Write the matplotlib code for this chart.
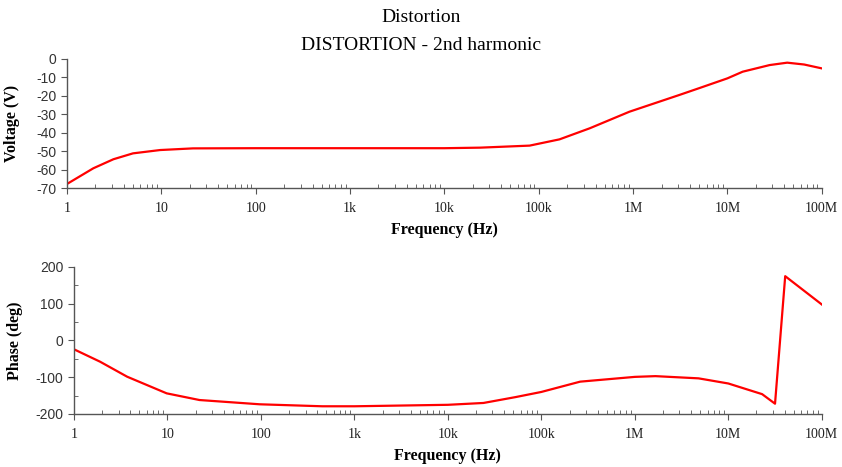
import numpy as np
import matplotlib.pyplot as plt
from matplotlib.ticker import FixedLocator, LogLocator, MultipleLocator, NullFormatter

plt.rcParams['axes.unicode_minus'] = False

# voltage trace (2nd harmonic magnitude)
v_freq = [1, 1.9, 3.1, 5, 9.7, 21.6, 100, 1e3, 1e4, 2.4e4, 8e4, 1.66e5,
          3.47e5, 9.15e5, 3.1e6, 5.1e6, 1e7, 1.45e7, 2.8e7, 4.3e7, 6.5e7, 1e8]
v_volt = [-67.8, -59.3, -54.4, -51.2, -49.4, -48.5, -48.4, -48.4, -48.4, -48.1,
          -47.0, -43.6, -37.6, -28.6, -19.5, -15.7, -10.5, -6.9, -3.3, -2.0,
          -3.0, -5.1]

# phase trace
p_freq = [1, 1.9, 3.7, 9.8, 22, 97, 453, 1e3, 1e4, 2.4e4, 5.3e4, 1e5, 2.6e5,
          1e6, 1.66e6, 4.8e6, 1e7, 2.3e7, 3.16e7, 4.06e7, 1e8]
p_deg = [-24, -57.7, -98.5, -143.8, -162, -173.6, -179, -179, -175, -170, -154,
         -140, -112, -99, -97, -103, -117, -146, -172, 175, 98]

freq_ticks = [1, 10, 100, 1e3, 1e4, 1e5, 1e6, 1e7, 1e8]
freq_labels = ['1', '10', '100', '1k', '10k', '100k', '1M', '10M', '100M']

serif = 'Liberation Serif'
sans = 'Liberation Sans'
axcol = '#555555'

fig = plt.figure(figsize=(8.42, 4.67), dpi=100)
ax1 = fig.add_axes([0.0796, 0.5974, 0.8964, 0.2763])
ax2 = fig.add_axes([0.0879, 0.1135, 0.8881, 0.3148])

fig.text(0.5, 0.962, 'Distortion', ha='center', va='center',
         family=serif, fontsize=14)
fig.text(0.5, 0.902, 'DISTORTION - 2nd harmonic', ha='center', va='center',
         family=serif, fontsize=14)

ax1.plot(v_freq, v_volt, color='#ff0000', lw=1.6)
ax2.plot(p_freq, p_deg, color='#ff0000', lw=1.6)

for ax in (ax1, ax2):
    ax.set_xscale('log')
    ax.set_xlim(1, 1e8)
    ax.spines['top'].set_visible(False)
    ax.spines['right'].set_visible(False)
    for s in ('left', 'bottom'):
        ax.spines[s].set_color(axcol)
        ax.spines[s].set_linewidth(1.0)
    ax.xaxis.set_major_locator(FixedLocator(freq_ticks))
    ax.set_xticklabels(freq_labels, family=serif, fontsize=10, color='#222222')
    ax.xaxis.set_minor_locator(LogLocator(base=10, subs=np.arange(2, 10), numticks=20))
    ax.xaxis.set_minor_formatter(NullFormatter())
    ax.tick_params(axis='x', which='major', direction='out', length=4,
                   color=axcol, pad=6)
    ax.tick_params(axis='x', which='minor', direction='in', length=3, color=axcol)
    ax.tick_params(axis='y', which='major', direction='out', length=4,
                   color=axcol, labelsize=10, labelcolor='#333333')
    ax.tick_params(axis='y', which='minor', direction='in', length=3, color=axcol)
    ax.set_xlabel('Frequency (Hz)', family=serif, fontsize=11.5,
                  fontweight='bold', labelpad=5)

ax1.set_ylim(-70, 0)
ax1.yaxis.set_major_locator(MultipleLocator(10))
ax1.set_ylabel('Voltage (V)', family=serif, fontsize=11.5, fontweight='bold')

ax2.set_ylim(-200, 200)
ax2.yaxis.set_major_locator(MultipleLocator(100))
ax2.yaxis.set_minor_locator(MultipleLocator(50))
ax2.set_ylabel('Phase (deg)', family=serif, fontsize=11.5, fontweight='bold')

for ax in (ax1, ax2):
    for lab in ax.get_yticklabels():
        lab.set_family(sans)

ax1.yaxis.set_label_coords(-0.062, 0.5)
ax2.yaxis.set_label_coords(-0.068, 0.5)

fig.savefig('out.png', dpi=100)
